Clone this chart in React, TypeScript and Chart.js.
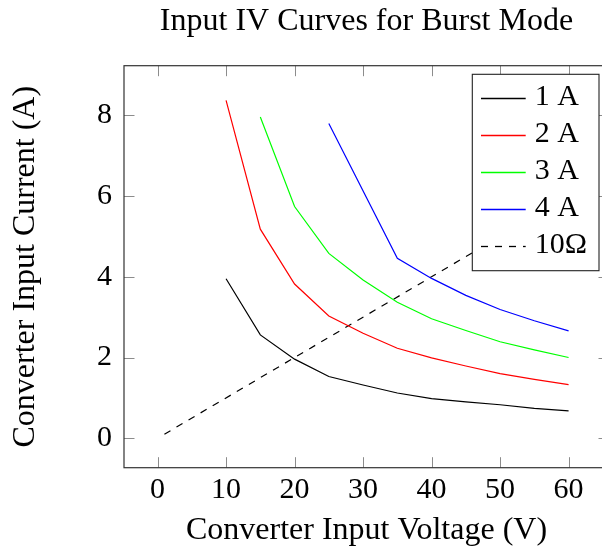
import React, { useEffect, useRef } from "react";
import { Chart, registerables } from "chart.js";

Chart.register(...registerables);

// ---- Data ----
const titleText = "Input IV Curves for Burst Mode";
const xAxisLabel = "Converter Input Voltage (V)";
const yAxisLabel = "Converter Input Current (A)";
const seriesLabels = ["1 A", "2 A", "3 A", "4 A", "10Ω"];
const seriesColors = ["#000000", "#ff0000", "#00ff00", "#0000ff", "#000000"];
const seriesDashed = [false, false, false, false, true];

const voltage1A = [10, 15, 20, 25, 30, 35, 40, 45, 50, 55, 60];
const current1A = [3.95, 2.56, 1.96, 1.53, 1.32, 1.12, 0.98, 0.9, 0.83, 0.74, 0.68];

const voltage2A = [10, 15, 20, 25, 30, 35, 40, 45, 50, 55, 60];
const current2A = [8.37, 5.18, 3.82, 3.03, 2.6, 2.23, 1.99, 1.79, 1.6, 1.46, 1.33];

const voltage3A = [15, 20, 25, 30, 35, 40, 45, 50, 55, 60];
const current3A = [7.96, 5.74, 4.58, 3.92, 3.37, 2.96, 2.67, 2.39, 2.19, 2.0];

const voltage4A = [25, 35, 40, 45, 50, 55, 60];
const current4A = [7.8, 4.46, 3.96, 3.54, 3.19, 2.91, 2.66];

const voltage10R = [1, 60];
const current10R = [0.1, 6.0];

const xTickValues = [0, 10, 20, 30, 40, 50, 60];
const yTickValues = [0, 2, 4, 6, 8];
const xRange = [-4.9, 65.9];
const yRange = [-0.73, 9.23];

const FONT = "'Liberation Serif', 'Times New Roman', serif";
const DASH = [7, 7];

function zip(xs: number[], ys: number[]) {
  return xs.map((x, i) => ({ x, y: ys[i] }));
}

const boxPlugin = {
  id: "pgfBox",
  afterDraw(chart: any) {
    const { ctx, chartArea } = chart;
    const { left, right, top, bottom } = chartArea;
    const xs = chart.scales.x;
    const ys = chart.scales.y;
    ctx.save();
    // ticks (inward, all four sides)
    ctx.strokeStyle = "#8c8c8c";
    ctx.lineWidth = 1;
    const tl = 10.5;
    ctx.beginPath();
    xTickValues.forEach((v) => {
      const px = Math.round(xs.getPixelForValue(v)) + 0.5;
      ctx.moveTo(px, bottom);
      ctx.lineTo(px, bottom - tl);
      ctx.moveTo(px, top);
      ctx.lineTo(px, top + tl);
    });
    yTickValues.forEach((v) => {
      const py = Math.round(ys.getPixelForValue(v)) + 0.5;
      ctx.moveTo(left, py);
      ctx.lineTo(left + tl, py);
      ctx.moveTo(right, py);
      ctx.lineTo(right - tl, py);
    });
    ctx.stroke();
    // border
    ctx.strokeStyle = "#333333";
    ctx.lineWidth = 1.2;
    ctx.strokeRect(left, top, right - left, bottom - top);

    // legend
    const lw = 126.7;
    const lh = 196.4;
    const lx = right - 10 - lw;
    const ly = top + 8.6;
    ctx.fillStyle = "#ffffff";
    ctx.fillRect(lx, ly, lw, lh);
    ctx.strokeStyle = "#222222";
    ctx.lineWidth = 1.1;
    ctx.strokeRect(lx, ly, lw, lh);
    const rowH = 37;
    seriesLabels.forEach((label, i) => {
      const ry = ly + 24.2 + i * rowH;
      ctx.save();
      ctx.strokeStyle = seriesColors[i];
      ctx.lineWidth = 1.3;
      ctx.setLineDash(seriesDashed[i] ? DASH : []);
      ctx.beginPath();
      ctx.moveTo(lx + 8.7, ry);
      ctx.lineTo(lx + 53.4, ry);
      ctx.stroke();
      ctx.restore();
      ctx.fillStyle = "#000000";
      ctx.font = `30px ${FONT}`;
      ctx.textBaseline = "middle";
      ctx.textAlign = "left";
      ctx.fillText(label, lx + 62.5, ry - 1.8);
    });
    ctx.restore();
  },
};

export default function App() {
  const canvasRef = useRef<HTMLCanvasElement | null>(null);

  useEffect(() => {
    if (!canvasRef.current) return;
    const xData = [voltage1A, voltage2A, voltage3A, voltage4A, voltage10R];
    const yData = [current1A, current2A, current3A, current4A, current10R];
    const datasets = seriesLabels.map((label, i) => ({
      label,
      data: zip(xData[i], yData[i]),
      borderColor: seriesColors[i],
      backgroundColor: seriesColors[i],
      borderWidth: 1.2,
      borderDash: seriesDashed[i] ? DASH : [],
      pointRadius: 0,
      tension: 0,
      fill: false,
    }));
    const chart = new Chart(canvasRef.current, {
      type: "line",
      data: { datasets },
      options: {
        responsive: false,
        animation: false,
        devicePixelRatio: 1,
        layout: { padding: { left: 0, right: 11, top: 0, bottom: 0 } },
        plugins: {
          legend: { display: false },
          tooltip: { enabled: false },
          title: {
            display: true,
            text: titleText,
            fullSize: false,
            color: "#000",
            font: { family: FONT, size: 32, weight: "normal", lineHeight: 1.2 },
            padding: { top: 2.3, bottom: 25 },
          },
        },
        scales: {
          x: {
            type: "linear",
            min: xRange[0],
            max: xRange[1],
            grid: { display: false, drawTicks: false },
            border: { display: false },
            afterBuildTicks: (scale: any) => {
              scale.ticks = xTickValues.map((v) => ({ value: v }));
            },
            afterFit: (scale: any) => {
              scale.height = 82.3;
            },
            ticks: {
              color: "#000",
              padding: 4.5,
              maxRotation: 0,
              autoSkip: false,
              font: { family: FONT, size: 30, lineHeight: 1.2 },
              callback: (v: any) => String(v),
            },
            title: {
              display: true,
              text: xAxisLabel,
              color: "#000",
              font: { family: FONT, size: 32, lineHeight: 1.2 },
              padding: { top: 0, bottom: 0 },
            },
          },
          y: {
            type: "linear",
            min: yRange[0],
            max: yRange[1],
            grid: { display: false, drawTicks: false },
            border: { display: false },
            afterBuildTicks: (scale: any) => {
              scale.ticks = yTickValues.map((v) => ({ value: v }));
            },
            afterFit: (scale: any) => {
              scale.width = 124;
            },
            ticks: {
              color: "#000",
              padding: 12,
              autoSkip: false,
              font: { family: FONT, size: 30, lineHeight: 1.2 },
              callback: (v: any) => String(v),
            },
            title: {
              display: true,
              text: yAxisLabel,
              color: "#000",
              font: { family: FONT, size: 32, lineHeight: 1.2 },
              padding: { top: 6.2, bottom: 0 },
            },
          },
        },
      },
      plugins: [boxPlugin],
    });
    return () => chart.destroy();
  }, []);

  return (
    <div
      style={{
        position: "fixed",
        left: 0,
        top: 0,
        width: 602,
        height: 550,
        overflow: "hidden",
        background: "#fff",
      }}
    >
      <canvas ref={canvasRef} width={620} height={550} style={{ width: 620, height: 550, display: "block" }} />
    </div>
  );
}
